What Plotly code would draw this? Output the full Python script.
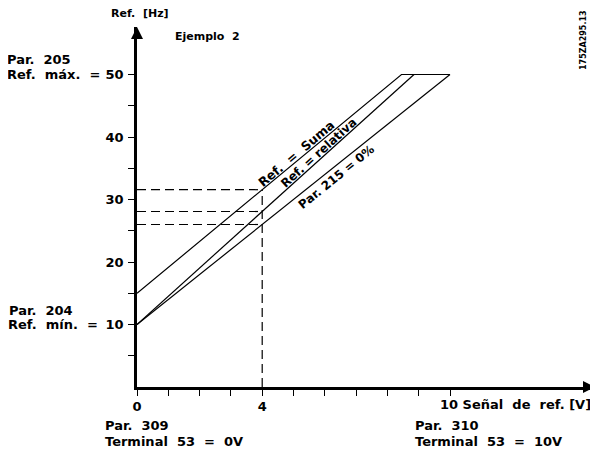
import numpy as np
import plotly.graph_objects as go

# ---- data ----
x_suma = [0, 8.45, 10]
y_suma = [15, 50, 50]
x_rel = [0, 8.85]
y_rel = [10, 50]
x_zero = [0, 10]
y_zero = [10, 50]
x_mark = 4

y_tickvals = [10, 20, 30, 40, 50]
y_ticktext = ["10", "20", "30", "40", "50"]
y_minor = [5, 15, 25, 35, 45]
x_tickvals = list(range(0, 11))
x_ticktext = ["0", "", "", "", "4", "", "", "", "", "", ""]

# ---- layout geometry (reference pixel coords; page has 8px body margin) ----
OFF = 8
W, H = 598 - OFF, 452 - OFF
AX_L, AX_R, AX_T, AX_B = 137, 595, 27, 387
L, R, T, B = AX_L - OFF, 598 - AX_R, AX_T - OFF, 452 - AX_B
PW, PH = AX_R - AX_L, AX_B - AX_T
XMAX = PW / 31.3
YMAX = PH / 6.25

def px(x):
    return (x - AX_L) / PW

def py(y):
    return (AX_B - y) / PH

FONT = "DejaVu Sans"
line = dict(color="black", width=1.2)
dash = dict(color="black", width=1.2, dash="9px,5px")

fig = go.Figure()
fig.add_trace(go.Scatter(x=x_suma, y=y_suma, mode="lines", line=line))
fig.add_trace(go.Scatter(x=x_rel, y=y_rel, mode="lines", line=line))
fig.add_trace(go.Scatter(x=x_zero, y=y_zero, mode="lines", line=line))

ys = [float(np.interp(x_mark, x_suma, y_suma)),
      float(np.interp(x_mark, x_rel, y_rel)),
      float(np.interp(x_mark, x_zero, y_zero))]
for yv in ys:
    fig.add_trace(go.Scatter(x=[0, x_mark], y=[yv, yv], mode="lines", line=dash))
fig.add_trace(go.Scatter(x=[x_mark, x_mark], y=[0, max(ys)], mode="lines", line=dash))

tf = dict(family=FONT, size=13, color="black", weight="bold")
fig.update_layout(
    width=W, height=H, margin=dict(l=L, r=R, t=T, b=B),
    plot_bgcolor="white", paper_bgcolor="white", showlegend=False,
    font=dict(family=FONT, size=13, color="black"),
    xaxis=dict(range=[0, XMAX], showgrid=False, zeroline=False, showline=True,
               linecolor="black", linewidth=2.5, ticks="outside", ticklen=6,
               tickwidth=1, tickcolor="black", tickvals=x_tickvals,
               ticktext=x_ticktext, tickfont=tf, automargin=False),
    yaxis=dict(range=[0, YMAX], showgrid=False, zeroline=False, showline=True,
               linecolor="black", linewidth=2.5, ticks="outside", ticklen=6,
               tickwidth=1, tickcolor="black", tickvals=y_tickvals,
               ticktext=y_ticktext, tickfont=tf, automargin=False,
               ticklabelstandoff=2,
               minor=dict(tickvals=y_minor, ticks="outside", ticklen=6,
                          tickwidth=1, tickcolor="black")),
)

ann = []
def text(t, x, y, xa="left", size=13, angle=0):
    ann.append(dict(text=t, x=px(x), y=py(y),
                    xref="paper", yref="paper", xanchor=xa, yanchor="middle",
                    showarrow=False, textangle=angle, borderpad=0, borderwidth=0,
                    font=dict(family=FONT, size=size, color="black", weight="bold")))

S = "\u00a0 "
text("Ref." + S + "[Hz]", 140, 14, xa="center", size=11)
text("Ejemplo" + S + "2", 175, 36, size=11)
text("Par." + S + "205", 7, 59)
text("Ref." + S + "máx." + S + "=", 7, 74)
text("Par." + S + "204", 9, 310)
text("Ref." + S + "mín." + S + "=", 8, 324)
text("Par." + S + "309", 105, 425)
text("Terminal" + S + "53" + S + "=" + S + "0V", 105, 442)
text("Par." + S + "310", 415, 425)
text("Terminal" + S + "53" + S + "=" + S + "10V", 415, 442)
text("10 Señal" + S + "de" + S + "ref. [V]", 440, 404)
text("175ZA295.13", 584, 40, xa="center", size=8, angle=-90)
text("Ref." + S + "=" + S + "Suma", 296.5, 153.7, xa="center", size=12.5, angle=-40)
text("Ref. = relativa", 318.4, 152.6, xa="center", size=12, angle=-42)
text("Par. 215 = 0%", 336.5, 177.5, xa="center", size=12, angle=-39)

# axis arrowheads
ann.append(dict(x=1, y=0, xref="paper", yref="paper", ax=-12, ay=0,
                text="", showarrow=True, arrowhead=2, arrowsize=1.2,
                arrowwidth=2, arrowcolor="black", standoff=0))
ann.append(dict(x=0, y=1, xref="paper", yref="paper", ax=0, ay=12,
                text="", showarrow=True, arrowhead=2, arrowsize=1.2,
                arrowwidth=2, arrowcolor="black", standoff=0))
fig.update_layout(annotations=ann)

fig.write_html("out.html")
